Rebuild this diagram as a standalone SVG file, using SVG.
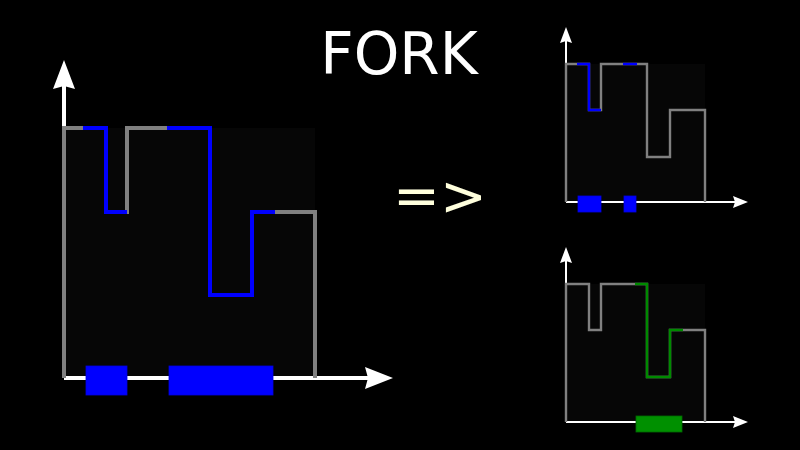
<svg xmlns="http://www.w3.org/2000/svg" width="800" height="450" viewBox="0 0 800 450">
<style>
.bg{fill:#060606}
.gray{fill:none;stroke:#808080;stroke-linejoin:miter}
.blue{fill:none;stroke:#0000ff;stroke-linejoin:miter}
.green{fill:none;stroke:#008a00;stroke-linejoin:miter}
.axis{stroke:#ffffff}
.head{fill:#ffffff}
.brect{fill:#0000ff;stroke:#0000e0;stroke-width:0.8}
.grect{fill:#009000;stroke:#006a00;stroke-width:0.8}
.w4{stroke-width:4}
.w2{stroke-width:2.4}
.ax2{stroke-width:2}
</style>
<rect width="800" height="450" fill="#000000"/>
<g id="title"><text x="399" y="74" font-family="DejaVu Sans, sans-serif" font-size="58" fill="#ffffff" text-anchor="middle">FORK</text></g>
<g id="arrow-text"><text x="393" y="215" font-family="DejaVu Sans, sans-serif" font-size="56" fill="#ffffdd">=&gt;</text></g>

<g id="main-chart">
<rect class="bg" x="64" y="128" width="251" height="250"/>
<line class="axis w4" x1="64" y1="130" x2="64" y2="86"/>
<polygon class="head" points="64,60 75,89 64,86 53,89"/>
<line class="axis w4" x1="64" y1="378" x2="368" y2="378"/>
<polygon class="head" points="393,378 365,367 368,378 365,389"/>
<path class="gray w4" d="M64,378 V128 H106 V212 H127 V128 H210 V295 H252 V212 H315 V378"/>
<path class="blue w4" d="M83,128 H106 V212 H127"/>
<path class="blue w4" d="M167,128 H210 V295 H252 V212 H275"/>
<rect class="brect" x="86" y="366" width="41" height="29"/>
<rect class="brect" x="169" y="366" width="104" height="29"/>
</g>

<g id="top-chart">
<rect class="bg" x="566" y="64" width="139" height="138"/>
<line class="axis ax2" x1="566" y1="65" x2="566" y2="40"/>
<polygon class="head" points="566,27 572,43 566,41 560,43"/>
<line class="axis ax2" x1="566" y1="202" x2="736" y2="202"/>
<polygon class="head" points="748,202 733,196 735,202 733,208"/>
<path class="gray w2" d="M566,202 V64 H589 V110 H601 V64 H647 V157 H670 V110 H705 V202"/>
<path class="blue w2" d="M577,64 H589 V110 H601"/>
<path class="blue w2" d="M623,64 H637"/>
<rect class="brect" x="578" y="196" width="23" height="16"/>
<rect class="brect" x="624" y="196" width="12" height="16"/>
</g>

<g id="bottom-chart">
<rect class="bg" x="566" y="284" width="139" height="138"/>
<line class="axis ax2" x1="566" y1="285" x2="566" y2="260"/>
<polygon class="head" points="566,247 572,263 566,261 560,263"/>
<line class="axis ax2" x1="566" y1="422" x2="736" y2="422"/>
<polygon class="head" points="748,422 733,416 735,422 733,428"/>
<path class="gray w2" d="M566,422 V284 H589 V330 H601 V284 H647 V377 H670 V330 H705 V422"/>
<path class="green w2" d="M635,284 H647 V377 H670 V330 H683"/>
<rect class="grect" x="636" y="416" width="46" height="16"/>
</g>
</svg>
